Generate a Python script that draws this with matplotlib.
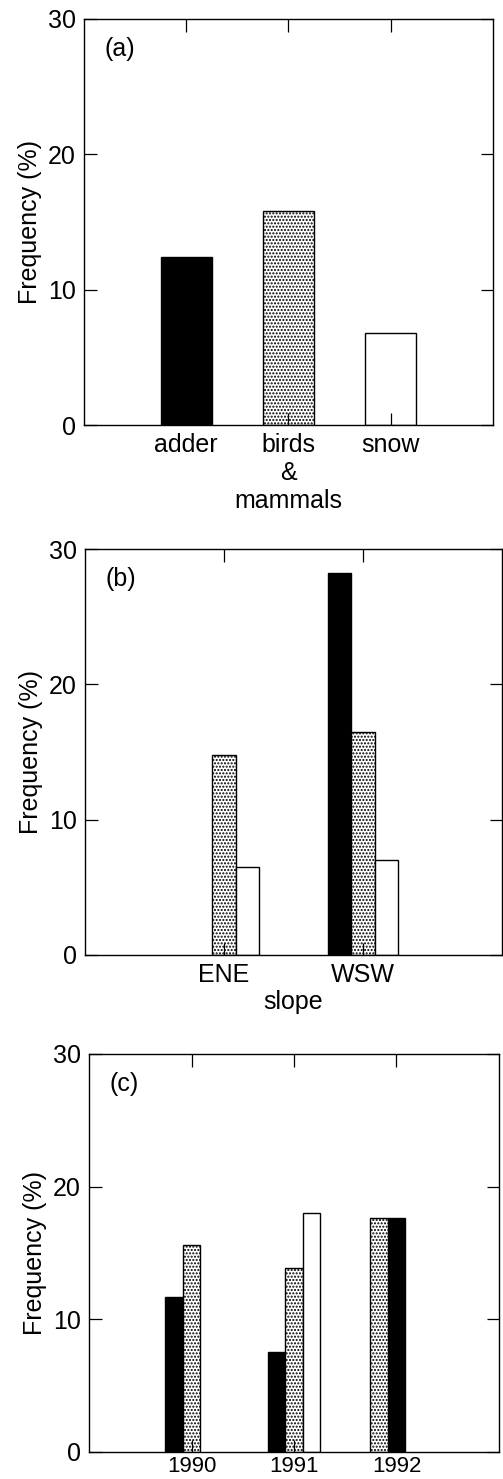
import matplotlib
matplotlib.use("Agg")
import matplotlib.pyplot as plt
import numpy as np

plt.rcParams['font.family'] = ['Liberation Sans', 'DejaVu Sans']
plt.rcParams['hatch.linewidth'] = 1.0

# (a) prey / cause
cats_a = ["adder", "birds\n&\nmammals", "snow"]
vals_a = [12.4, 15.8, 6.8]

# (b) slope
cats_b = ["ENE", "WSW"]
adder_b = [0.0, 28.2]
birds_b = [14.8, 16.5]
snow_b = [6.5, 7.0]

# (c) years; bar order within each year as printed
years = ["1990", "1991", "1992"]
adder_c = [11.7, 7.5, 17.6]
birds_c = [15.6, 13.9, 17.6]
snow_c = [0.0, 18.0, 0.0]
slot_c = [[-1, 0, 1], [-1, 0, 1], [0, -1, 1]]  # adder, birds, snow slot

styles = {
    "adder": dict(color="black", edgecolor="black"),
    "birds": dict(color="white", edgecolor="black", hatch="....."),
    "snow": dict(color="white", edgecolor="black"),
}
FS = 18

fig = plt.figure(figsize=(5.03, 14.79), dpi=100)
ax_a = fig.add_axes([0.167, 0.7126, 0.813, 0.2748])
ax_b = fig.add_axes([0.169, 0.3543, 0.829, 0.2745])
ax_c = fig.add_axes([0.177, 0.0183, 0.815, 0.2691])

def style_axes(ax, ncat, label):
    ax.set_ylim(0, 30)
    ax.set_xlim(0, ncat + 1)
    ax.set_yticks([0, 10, 20, 30])
    ax.set_xticks(np.arange(1, ncat + 1))
    ax.tick_params(direction="in", length=9, width=0.9, top=True, right=True,
                   labelsize=FS, pad=6)
    ax.set_ylabel("Frequency (%)", fontsize=FS, labelpad=4)
    for s in ax.spines.values():
        s.set_linewidth(1.0)
    ax.text(0.05, 0.925, label, transform=ax.transAxes, fontsize=FS,
            ha="left", va="center")

# panel a
xa = np.arange(1, len(cats_a) + 1)
for x, v, k in zip(xa, vals_a, ["adder", "birds", "snow"]):
    ax_a.bar(x, v, width=0.5, lw=1, **styles[k])
style_axes(ax_a, len(cats_a), "(a)")
ax_a.set_xticklabels(cats_a, linespacing=1.2)

# panel b
xb = np.arange(1, len(cats_b) + 1)
w = 0.17
for vals, off, k in [(adder_b, -w, "adder"), (birds_b, 0, "birds"), (snow_b, w, "snow")]:
    for x, v in zip(xb, vals):
        if v > 0:
            ax_b.bar(x + off, v, width=w, lw=1, **styles[k])
style_axes(ax_b, len(cats_b), "(b)")
ax_b.set_xticklabels(cats_b)
ax_b.set_xlabel("slope", fontsize=FS, labelpad=2)

# panel c
xc = np.arange(1, len(years) + 1)
for i, x in enumerate(xc):
    for j, (vals, k) in enumerate([(adder_c, "adder"), (birds_c, "birds"), (snow_c, "snow")]):
        if vals[i] > 0:
            ax_c.bar(x + slot_c[i][j] * w, vals[i], width=w, lw=1, **styles[k])
style_axes(ax_c, len(years), "(c)")
ax_c.tick_params(axis="x", labelsize=16, pad=3)
ax_c.set_xticklabels(years)

fig.savefig("out.png", dpi=100)
